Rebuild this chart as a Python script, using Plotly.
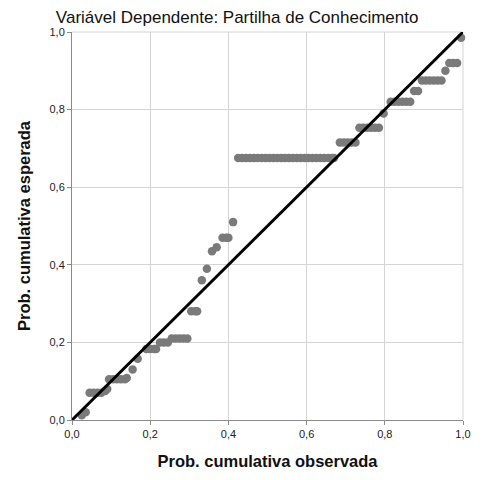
import plotly.graph_objects as go

title_text = "Variável Dependente: Partilha de Conhecimento"
x_title = "Prob. cumulativa observada"
y_title = "Prob. cumulativa esperada"
tick_vals = [0.0, 0.2, 0.4, 0.6, 0.8, 1.0]
tick_text = ["0,0", "0,2", "0,4", "0,6", "0,8", "1,0"]

observed = [
    0.025, 0.035,
    0.045, 0.055, 0.065, 0.075, 0.085, 0.09,
    0.095, 0.105, 0.115, 0.125, 0.135, 0.14,
    0.155, 0.168,
    0.19, 0.20, 0.21, 0.215,
    0.225, 0.235, 0.245,
    0.255, 0.265, 0.275, 0.285, 0.295,
    0.305, 0.315, 0.32,
    0.332, 0.345, 0.358, 0.37,
    0.385, 0.395, 0.40, 0.412,
    0.425, 0.435, 0.445, 0.455, 0.465, 0.475, 0.485, 0.495, 0.505, 0.515,
    0.525, 0.535, 0.545, 0.555, 0.565, 0.575, 0.585, 0.595, 0.605, 0.615,
    0.625, 0.635, 0.645, 0.655, 0.665, 0.67,
    0.685, 0.695, 0.705, 0.715, 0.725,
    0.735, 0.745, 0.755, 0.765, 0.775, 0.785,
    0.797,
    0.815, 0.825, 0.835, 0.845, 0.855, 0.865,
    0.875, 0.885,
    0.895, 0.905, 0.915, 0.925, 0.935, 0.945,
    0.955,
    0.965, 0.975, 0.985,
    0.995,
]
expected = [
    0.012, 0.02,
    0.07, 0.07, 0.07, 0.07, 0.075, 0.08,
    0.105, 0.105, 0.105, 0.105, 0.105, 0.108,
    0.13, 0.158,
    0.183, 0.183, 0.183, 0.183,
    0.20, 0.20, 0.20,
    0.21, 0.21, 0.21, 0.21, 0.21,
    0.28, 0.28, 0.28,
    0.36, 0.39, 0.435, 0.445,
    0.47, 0.47, 0.47, 0.51,
    0.675, 0.675, 0.675, 0.675, 0.675, 0.675, 0.675, 0.675, 0.675, 0.675,
    0.675, 0.675, 0.675, 0.675, 0.675, 0.675, 0.675, 0.675, 0.675, 0.675,
    0.675, 0.675, 0.675, 0.675, 0.675, 0.675,
    0.715, 0.715, 0.715, 0.715, 0.715,
    0.753, 0.753, 0.753, 0.753, 0.753, 0.753,
    0.79,
    0.82, 0.82, 0.82, 0.82, 0.82, 0.82,
    0.848, 0.848,
    0.875, 0.875, 0.875, 0.875, 0.875, 0.875,
    0.90,
    0.92, 0.92, 0.92,
    0.985,
]
ref_line = [0.0, 1.0]

font_family = "Liberation Sans, Arial, sans-serif"

fig = go.Figure()
fig.add_trace(go.Scatter(
    x=observed, y=expected, mode="markers",
    marker=dict(color="#7a7a7a", size=8.5, line=dict(width=0)),
    cliponaxis=False, showlegend=False, hoverinfo="x+y",
))
fig.add_trace(go.Scatter(
    x=ref_line, y=ref_line, mode="lines",
    line=dict(color="black", width=3),
    showlegend=False,
))

axis_common = dict(
    range=[0, 1], tickvals=tick_vals, ticktext=tick_text,
    showgrid=True, gridcolor="#d4d4d4", gridwidth=1,
    showline=True, linecolor="#8a8a8a", linewidth=1,
    ticks="outside", ticklen=4, tickcolor="#8a8a8a",
    tickfont=dict(family=font_family, size=11, color="#222222"),
    zeroline=False, fixedrange=True,
)

fig.update_layout(
    width=490, height=480,
    paper_bgcolor="white", plot_bgcolor="white",
    margin=dict(l=72, r=27, t=32, b=55),
    title=dict(text=title_text, x=0.484, xanchor="center", y=0.965, yanchor="middle",
               font=dict(family=font_family, size=17, color="#111111")),
    xaxis=dict(axis_common, title=dict(text="<b>" + x_title + "</b>", standoff=16,
               font=dict(family=font_family, size=16.5, color="#111111"))),
    yaxis=dict(axis_common, title=dict(text="<b>" + y_title + "</b>", standoff=14,
               font=dict(family=font_family, size=16.5, color="#111111"))),
    shapes=[
        dict(type="line", xref="paper", yref="paper", x0=0, x1=1, y0=1, y1=1,
             line=dict(color="#d4d4d4", width=1), layer="below"),
        dict(type="line", xref="paper", yref="paper", x0=1, x1=1, y0=0, y1=1,
             line=dict(color="#d4d4d4", width=1), layer="below"),
    ],
)

fig.write_html("out.html")
